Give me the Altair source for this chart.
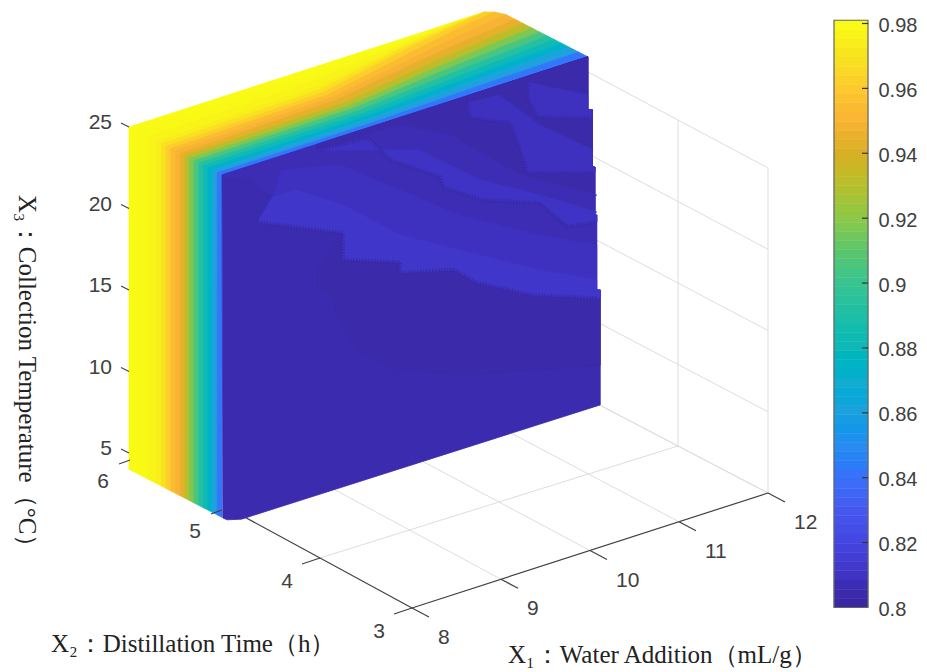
import altair as alt
import numpy as np
import pandas as pd

# ---------- values ----------
COLOR_DOMAIN = [0.80, 0.806, 0.81, 0.82, 0.83, 0.84, 0.85, 0.86, 0.87, 0.88, 0.89, 0.90, 0.91, 0.92, 0.93, 0.94, 0.95, 0.96, 0.97, 0.98]
COLOR_RANGE = ["#3a279f", "#3b2bae", "#3f33c5", "#4545e0", "#4658f0", "#3a70fa", "#2a8cf0", "#1fa0df", "#14aed0", "#10b8b8",
               "#1fbfa5", "#38c490", "#5cc66c", "#8cc848", "#b6bf2c", "#d8b026", "#f9b233", "#fdc92e", "#f8e41e", "#f9fb15"]
BAR_TICKS = [0.8, 0.82, 0.84, 0.86, 0.88, 0.9, 0.92, 0.94, 0.96, 0.98]

X1_TICKS = [8, 9, 10, 11, 12]
X2_TICKS = [3, 4, 5, 6]
X3_TICKS = [5, 10, 15, 20, 25]

# colour across the slab thickness (X2 from 6 down to 5)
X2_EDGES = [6.0, 5.9, 5.8, 5.7, 5.65, 5.6, 5.55, 5.5, 5.45, 5.4, 5.35, 5.3, 5.25, 5.2, 5.15, 5.1, 5.05, 5.0]
X2_VALUES = [0.98, 0.979, 0.977, 0.974, 0.969, 0.962, 0.955, 0.95, 0.944, 0.932, 0.917, 0.905, 0.892, 0.881, 0.873, 0.86, 0.842]

# top face: distance below X2 = 6 of the same colour steps at several X1 stations
TOP_X1 = [8, 9.8, 11, 11.6, 12.11]
TOP_T_98 = [0, .08, .17, .26, .31, .36, .41, .46, .51, .58, .64, .69, .74, .79, .84, .89, .95, 1]
TOP_T_110 = [0, .03, .06, .09, .11, .14, .2, .27, .34, .42, .5, .57, .64, .71, .77, .84, .92, 1]
TOP_T_116 = [0, 0, .01, .02, .03, .05, .1, .18, .27, .36, .44, .52, .6, .67, .74, .82, .91, 1]
TOP_T_121 = [0, 0, 0, 0, 0, 0, .04, .12, .22, .31, .4, .48, .56, .64, .72, .8, .9, 1]

# front face X2 = 5: outline and level curves, (X1, X3)
RIGHT_EDGE = [(12.11, 25), (12.11, 21.74), (12.16, 21.66), (12.16, 18.16), (12.19, 18.10), (12.19, 15.15),
              (12.21, 15.12), (12.21, 10.52), (12.25, 10.45), (12.25, 3.40)]
FACE_BOTTOM = [(8.22, 3.50), (8.06, 3.74), (8.01, 3.94)]
PATCH = [(8.57, 22.64), (8.31, 24.33), (8.02, 24.84)]
B1 = [(8.40, 21.40), (9.36, 19.04), (9.36, 17.39), (10.00, 16.13), (10.00, 15.46), (10.60, 14.60), (10.87, 13.32), (11.49, 11.47), (12.21, 10.02)]
B2 = [(9.07, 24.65), (9.64, 24.38), (9.89, 22.59), (10.45, 20.56), (10.48, 19.88), (10.93, 18.29), (11.57, 16.98), (11.88, 14.98), (12.21, 14.69)]
B3 = [(10.75, 24.56), (10.79, 23.58), (11.24, 22.48), (11.35, 20.63), (11.43, 19.08), (12.17, 17.77)]
B4 = [(11.43, 24.66), (11.44, 23.54), (11.54, 22.32), (12.13, 21.20)]
C1A = [(8.67, 24.12), (9.33, 23.28), (10.00, 20.55), (10.67, 17.83), (11.57, 15.02), (12.21, 13.28)]
C1B = [(8.82, 22.63), (9.36, 20.76), (10.00, 17.79), (10.67, 15.68), (11.57, 12.87), (12.21, 11.13)]
C2A = [(10.00, 24.54), (10.56, 22.94), (11.35, 19.09), (12.21, 16.34)]
C2B = [(10.22, 22.61), (10.90, 19.58), (11.57, 17.47), (12.21, 15.30)]
C3A = [(11.12, 24.40), (11.57, 21.77), (12.17, 19.18)]
C4A = [(11.57, 24.22), (12.11, 22.66)]
DARK_CORE = [(12.25, 5.85), (10.75, 7.88), (10.00, 9.51), (9.52, 11.59), (9.27, 14.48), (9.25, 15.31), (9.07, 16.25), (9.07, 17.29), (9.36, 19.04), (12.25, 10.0)]

V_BASE, V_DARK, V_A, V_B, V_C = 0.806, 0.804, 0.807, 0.809, 0.812

TITLE_X1 = "X₁：Water Addition（mL/g）"
TITLE_X2 = "X₂：Distillation Time（h）"
TITLE_X3 = "X₃：Collection Temperature（°C）"

# ---------- 3-D view ----------
def lerp(a, b, t):
    return a + (b - a) * t

def box_xy(x1, x2, x3):
    s, t, u = (x1 - 8) / 4, (x2 - 3) / 3, (x3 - 5) / 20
    px = lerp(lerp(412, 768, s), lerp(136, 498, s), t)
    floor = lerp(lerp(608, 493, s), lerp(458, 352, s), t)
    top = lerp(lerp(283, 168, s), lerp(128, 24, s), t)
    return px, lerp(floor, top, u)

def slab_xy(x1, x2, x3):
    return (129 + 89 * (x1 - 8) + 93 * (6 - x2),
            127 - 28.75 * (x1 - 8) + 48 * (6 - x2) + 16.3 * (25 - x3))

def right_x(z):
    for (xa, za), (xb, zb) in zip(RIGHT_EDGE, RIGHT_EDGE[1:]):
        if zb <= z <= za:
            return xb if abs(xa - xb) > 0.001 and za - zb < 0.2 else xa
    return RIGHT_EDGE[-1][0]

def edge(zhi, zlo):
    return [(right_x(zhi), zhi)] + [p for p in RIGHT_EDGE if zlo < p[1] < zhi] + [(right_x(zlo), zlo)]

# ---------- polygons ----------
polys = []
def add(v, pts):
    pid = len(polys)
    polys.append((pid, v, pts))

for a, b, v in zip(X2_EDGES, X2_EDGES[1:], X2_VALUES):          # left face
    add(v, [slab_xy(8, a, 25), slab_xy(8, b, 25), slab_xy(8, b, 4.0), slab_xy(8, a, 4.0)])

left_t = [6 - e for e in X2_EDGES]
stations = [left_t, TOP_T_98, TOP_T_110, TOP_T_116, TOP_T_121]

def top_contour(i):
    pts = []
    for x1, col in zip(TOP_X1, stations):
        t = col[i]
        # the back corner of the slab is cut off slightly
        x = x1 if x1 < 12 or t >= 0.07 else 12 + 0.11 * t / 0.07
        pts.append(slab_xy(x, 6 - t, 25))
    return pts

for i, v in enumerate(X2_VALUES):                                # top face
    add(v, top_contour(i) + list(reversed(top_contour(i + 1))))

def front(pts):
    return [slab_xy(x, 5, z) for x, z in pts]

rev = lambda c: list(reversed(c))
add(V_BASE, front([(8, 25)] + edge(25, 3.40) + FACE_BOTTOM))
add(V_DARK, front(DARK_CORE))
add(V_A, front([(8, 25)] + edge(25, B1[-1][1]) + rev(B1) + PATCH))
add(V_B, front(C1A + edge(C1A[-1][1], B1[-1][1]) + rev(B1) + PATCH[:1]))
add(V_C, front(C1B + edge(C1B[-1][1], B1[-1][1]) + rev(B1) + PATCH[:1]))
add(V_DARK, front([(9.07, 25)] + edge(25, B2[-1][1]) + rev(B2)))
add(V_A, front(C2A + edge(C2A[-1][1], B2[-1][1]) + rev(B2)))
add(V_B + 0.001, front(C2B + edge(C2B[-1][1], B2[-1][1]) + rev(B2)))
add(V_DARK, front([(10.75, 25)] + edge(25, B3[-1][1]) + rev(B3)))
add(V_B, front(C3A + edge(C3A[-1][1], B3[-1][1]) + rev(B3)))
add(V_DARK, front([(11.43, 25)] + edge(25, B4[-1][1]) + rev(B4)))
add(V_B, front(C4A + edge(C4A[-1][1], B4[-1][1]) + rev(B4)))

poly_rows = []
for pid, v, pts in polys:
    for i, (px, py) in enumerate(pts + pts[:1]):
        poly_rows.append({"pid": pid, "v": v, "o": i, "px": px, "py": py})
poly_df = pd.DataFrame(poly_rows)

comb_rows = []
for k, curve in enumerate([B1, B2, B3, B4]):
    for i, p in enumerate(front(curve)):
        comb_rows.append({"cid": k, "o": i, "px": p[0], "py": p[1]})
comb_df = pd.DataFrame(comb_rows)

# ---------- box lines ----------
def seg_rows(segs):
    rows = []
    for k, (a, b) in enumerate(segs):
        rows.append({"sid": k, "o": 0, "px": a[0], "py": a[1]})
        rows.append({"sid": k, "o": 1, "px": b[0], "py": b[1]})
    return pd.DataFrame(rows)

grid_segs = []
for x1 in [9, 10, 11, 12]:
    grid_segs.append((box_xy(x1, 3, 5), box_xy(x1, 6, 5)))
for x2 in [4, 5, 6]:
    grid_segs.append((box_xy(8, x2, 5), box_xy(12, x2, 5)))
for x2 in [3, 4, 5, 6]:
    grid_segs.append((box_xy(12, x2, 5), box_xy(12, x2, 25)))
for z in [5, 10, 15, 20, 25]:
    grid_segs.append((box_xy(12, 3, z), box_xy(12, 6, z)))

axis_segs = [(box_xy(8, 3, 5), box_xy(12, 3, 5)), (box_xy(8, 3, 5), box_xy(8, 4.89, 5))]
for x1 in X1_TICKS:
    r = box_xy(x1, 3, 5)
    axis_segs.append((r, (r[0] + 17, r[1] + 9)))
for x2 in X2_TICKS[:2]:
    r = box_xy(8, x2, 5)
    axis_segs.append((r, (r[0] - 18, r[1] + 6)))

over_segs = []
for x2 in X2_TICKS[2:]:
    r = box_xy(8, x2, 5)
    over_segs.append(((r[0] - 6, r[1] + 2), (r[0] - 17, r[1] + 6)))
for z in X3_TICKS:
    r = slab_xy(8, 6, z)
    over_segs.append((r, (r[0] - 8, r[1] - 4)))

# ---------- labels ----------
x1_lab = pd.DataFrame([{"t": str(v), "px": box_xy(v, 3, 5)[0], "py": box_xy(v, 3, 5)[1]} for v in X1_TICKS])
x2_lab = pd.DataFrame([{"t": str(v), "px": box_xy(8, v, 5)[0], "py": box_xy(8, v, 5)[1]} for v in X2_TICKS])
x3_lab = pd.DataFrame([{"t": str(v), "px": slab_xy(8, 6, v)[0], "py": slab_xy(8, 6, v)[1]} for v in X3_TICKS])

# ---------- chart ----------
color_scale = alt.Scale(domain=COLOR_DOMAIN, range=COLOR_RANGE)
X = alt.X("px:Q", axis=None, scale=alt.Scale(domain=[8, 825], nice=False, zero=False))
Y = alt.Y("py:Q", axis=None, scale=alt.Scale(domain=[664, 8], nice=False, zero=False))

def lines(df, color, width):
    return alt.Chart(df).mark_line(color=color, strokeWidth=width).encode(x=X, y=Y, detail="sid:N", order="o:Q")

SANS = "Liberation Sans"
SERIF = "Liberation Serif"

def ticks_text(df, align, dx, dy):
    return alt.Chart(df).mark_text(font=SANS, fontSize=21, color="#404040", align=align, baseline="middle", dx=dx, dy=dy).encode(x=X, y=Y, text="t:N")

def title_text(t, px, py, angle=0):
    return alt.Chart(pd.DataFrame({"t": [t]})).mark_text(font=SERIF, fontSize=25, color="#222222", align="left", baseline="middle", angle=angle).encode(
        x=alt.value(px - 8), y=alt.value(py - 8), text="t:N")

slab = alt.Chart(poly_df).mark_line(strokeWidth=0.8).encode(
    x=X, y=Y, order="o:Q", detail="pid:N",
    fill=alt.Fill("v:Q", scale=color_scale, legend=None),
    stroke=alt.Stroke("v:Q", scale=color_scale, legend=None),
)
comb = alt.Chart(comb_df).mark_line(color="#3a29a6", strokeWidth=4, strokeDash=[1.5, 1.5], opacity=0.85).encode(
    x=X, y=Y, detail="cid:N", order="o:Q")

main = alt.layer(
    lines(seg_rows(grid_segs), "#dddddd", 1),
    lines(seg_rows(axis_segs), "#404040", 1.2),
    slab, comb,
    lines(seg_rows(over_segs), "#404040", 1.2),
    ticks_text(x1_lab, "left", 26, 30),
    ticks_text(x2_lab, "center", -33, 24),
    ticks_text(x3_lab, "right", -17, -4),
    title_text(TITLE_X2, 51, 644),
    title_text(TITLE_X1, 508, 655),
    title_text(TITLE_X3, 27, 195, angle=90),
).properties(width=817, height=656)

# colour bar
levels = np.linspace(0.8, 0.981, 65)
bar_df = pd.DataFrame({"lo": levels[:-1], "hi": levels[1:], "mid": (levels[:-1] + levels[1:]) / 2})
bar_y = alt.Scale(domain=[0.78259, 0.98478], nice=False, zero=False)
bar_cells = alt.Chart(bar_df).mark_rect(strokeWidth=0.5).encode(
    x=alt.value(0), x2=alt.value(34),
    y=alt.Y("lo:Q", scale=bar_y, title=None, axis=alt.Axis(
        orient="right", values=BAR_TICKS, domain=False, ticks=False, grid=False, labelFont=SANS, labelFontSize=20,
        labelColor="#404040", labelPadding=10, labelOffset=2, labelExpr="format(datum.value, '.2~f')")),
    y2="hi:Q",
    fill=alt.Fill("mid:Q", scale=color_scale, legend=None),
    stroke=alt.Stroke("mid:Q", scale=color_scale, legend=None),
)
bar_frame = alt.Chart(pd.DataFrame({"lo": [0.8], "hi": [0.981]})).mark_rect(fillOpacity=0, stroke="#666666", strokeWidth=1.2).encode(
    x=alt.value(0), x2=alt.value(34), y=alt.Y("lo:Q", scale=bar_y), y2="hi:Q")
bar_ticks = alt.Chart(pd.DataFrame({"v": BAR_TICKS[1:]})).mark_rule(color="#333333", strokeWidth=1.2).encode(
    x=alt.value(28), x2=alt.value(34), y=alt.Y("v:Q", scale=bar_y))
bar = alt.layer(bar_cells, bar_frame, bar_ticks).properties(width=34, height=656)

chart = alt.hconcat(main, bar, spacing=8).properties(padding=0).configure_view(stroke=None)
chart.save("out.html", embed_options={"renderer": "svg", "actions": False})
